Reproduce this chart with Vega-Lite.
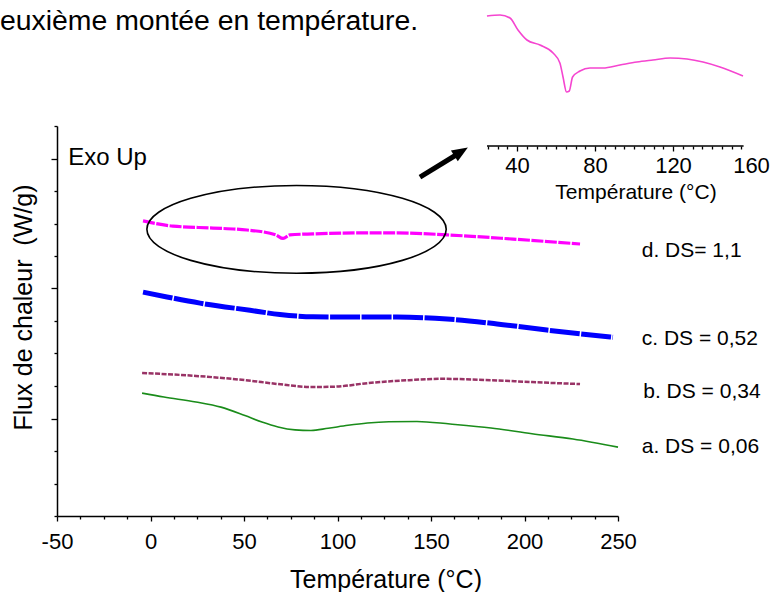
{
  "$schema": "https://vega.github.io/schema/vega-lite/v6.json",
  "width": 561,
  "height": 390,
  "autosize": {"type": "none"},
  "padding": {"left": 57, "top": 126, "right": 160, "bottom": 76},
  "background": "white",
  "config": {
    "view": {"stroke": null},
    "font": "Liberation Sans",
    "axis": {"grid": false, "domainColor": "black", "tickColor": "black", "labelColor": "black", "titleColor": "black", "labelFont": "Liberation Sans", "titleFont": "Liberation Sans", "titleFontWeight": "normal", "domainWidth": 1.5, "tickWidth": 1.3}
  },
  "datasets": {
    "curves": [
      {"s": "a", "T": -4.5, "v": 3.78}, {"s": "a", "T": 7.2, "v": 3.66}, {"s": "a", "T": 24.3, "v": 3.51}, {"s": "a", "T": 37.7, "v": 3.35}, {"s": "a", "T": 50.5, "v": 3.09}, {"s": "a", "T": 59.6, "v": 2.89}, {"s": "a", "T": 68.2, "v": 2.74}, {"s": "a", "T": 77.3, "v": 2.65}, {"s": "a", "T": 85.8, "v": 2.63}, {"s": "a", "T": 95.0, "v": 2.7}, {"s": "a", "T": 105.6, "v": 2.79}, {"s": "a", "T": 116.0, "v": 2.86}, {"s": "a", "T": 127.5, "v": 2.9}, {"s": "a", "T": 142.5, "v": 2.91}, {"s": "a", "T": 160.2, "v": 2.83}, {"s": "a", "T": 182.1, "v": 2.71}, {"s": "a", "T": 204.0, "v": 2.53}, {"s": "a", "T": 225.9, "v": 2.37}, {"s": "a", "T": 250.0, "v": 2.12},
      {"s": "b", "T": -4.5, "v": 4.4}, {"s": "b", "T": 24.3, "v": 4.31}, {"s": "b", "T": 50.6, "v": 4.18}, {"s": "b", "T": 68.2, "v": 4.06}, {"s": "b", "T": 85.8, "v": 3.97}, {"s": "b", "T": 98.6, "v": 3.98}, {"s": "b", "T": 116.3, "v": 4.09}, {"s": "b", "T": 138.2, "v": 4.18}, {"s": "b", "T": 155.9, "v": 4.22}, {"s": "b", "T": 182.1, "v": 4.18}, {"s": "b", "T": 204.0, "v": 4.12}, {"s": "b", "T": 229.7, "v": 4.06},
      {"s": "c", "T": -4.0, "v": 6.89}, {"s": "c", "T": 8.8, "v": 6.74}, {"s": "c", "T": 26.5, "v": 6.55}, {"s": "c", "T": 53.2, "v": 6.33}, {"s": "c", "T": 69.2, "v": 6.2}, {"s": "c", "T": 86.9, "v": 6.13}, {"s": "c", "T": 113.6, "v": 6.12}, {"s": "c", "T": 131.8, "v": 6.12}, {"s": "c", "T": 158.6, "v": 6.06}, {"s": "c", "T": 185.3, "v": 5.91}, {"s": "c", "T": 212.0, "v": 5.72}, {"s": "c", "T": 247.3, "v": 5.5},
      {"s": "d", "T": -4.0, "v": 9.08}, {"s": "d", "T": 12.0, "v": 8.92}, {"s": "d", "T": 33.4, "v": 8.86}, {"s": "d", "T": 51.6, "v": 8.8}, {"s": "d", "T": 67.0, "v": 8.65}, {"s": "d", "T": 70.9, "v": 8.54}, {"s": "d", "T": 74.5, "v": 8.65}, {"s": "d", "T": 86.9, "v": 8.68}, {"s": "d", "T": 113.6, "v": 8.71}, {"s": "d", "T": 131.8, "v": 8.71}, {"s": "d", "T": 158.6, "v": 8.65}, {"s": "d", "T": 193.9, "v": 8.52}, {"s": "d", "T": 229.7, "v": 8.37}
    ],
    "inset": [
      {"T": 24.6, "v": 13.0}, {"T": 31.3, "v": 13.1}, {"T": 36.4, "v": 12.8}, {"T": 40.5, "v": 11.6}, {"T": 45.1, "v": 10.6}, {"T": 51.8, "v": 10.1}, {"T": 58.5, "v": 9.3}, {"T": 62.0, "v": 8.3}, {"T": 63.6, "v": 6.9}, {"T": 65.4, "v": 5.4}, {"T": 66.8, "v": 5.5}, {"T": 68.5, "v": 6.9}, {"T": 72.3, "v": 7.5}, {"T": 77.4, "v": 7.8}, {"T": 84.1, "v": 7.8}, {"T": 92.8, "v": 8.1}, {"T": 101.5, "v": 8.4}, {"T": 109.7, "v": 8.6}, {"T": 118.5, "v": 8.8}, {"T": 127.2, "v": 8.7}, {"T": 135.4, "v": 8.4}, {"T": 144.1, "v": 7.9}, {"T": 155.9, "v": 7.0}
    ],
    "notes": [
      {"id": "lab", "label": "d. DS= 1,1", "T": 262.7, "v": 7.98},
      {"id": "lab", "label": "c. DS = 0,52", "T": 262.7, "v": 5.26},
      {"id": "lab", "label": "b. DS = 0,34", "T": 263.5, "v": 3.63},
      {"id": "lab", "label": "a. DS = 0,06", "T": 262.7, "v": 1.94},
      {"id": "exo", "label": "Exo Up", "T": -44.0, "v": 10.8},
      {"id": "top", "label": "euxième montée en température.", "T": -80.5, "v": 14.95}
    ]
  },
  "layer": [
    {
      "encoding": {
        "x": {"field": "T", "type": "quantitative", "scale": {"domain": [-50, 250], "nice": false, "zero": false},
          "axis": {"orient": "bottom", "values": [-50, -37.5, -25, -12.5, 0, 12.5, 25, 37.5, 50, 62.5, 75, 87.5, 100, 112.5, 125, 137.5, 150, 162.5, 175, 187.5, 200, 212.5, 225, 237.5, 250],
            "labelExpr": "datum.value % 50 === 0 ? '' + datum.value : ''",
            "tickSize": {"condition": {"test": "datum.value % 50 === 0", "value": 5}, "value": 3},
            "labelFontSize": 22, "labelBaseline": "alphabetic", "labelPadding": 27, "labelFlush": false, "labelOverlap": false,
            "title": "Température (°C)", "titleFontSize": 25, "titleX": 328.5, "titleY": 71, "titleBaseline": "alphabetic", "titleAlign": "center", "titleAnchor": null}},
        "y": {"field": "v", "type": "quantitative", "scale": {"domain": [0, 12], "nice": false, "zero": false},
          "axis": {"orient": "left", "values": [0, 1, 2, 3, 4, 5, 6, 7, 8, 9, 10, 11, 12], "labels": false,
            "tickSize": {"condition": {"test": "datum.value % 4 === 3", "value": 6}, "value": 3},
            "title": "Flux de chaleur\u00a0 (W/g)", "titleFontSize": 25, "titleX": -26, "titleY": 181, "titleAngle": 270, "titleBaseline": "alphabetic", "titleAlign": "center", "titleAnchor": null}}
      },
      "layer": [
        {"data": {"name": "curves"}, "transform": [{"filter": "datum.s === 'a'"}], "mark": {"type": "line", "color": "#1a8c1a", "strokeWidth": 1.6, "interpolate": "monotone"}},
        {"data": {"name": "curves"}, "transform": [{"filter": "datum.s === 'b'"}], "mark": {"type": "line", "color": "#993366", "strokeWidth": 2.5, "strokeDash": [5, 1.5], "interpolate": "monotone"}},
        {"data": {"name": "curves"}, "transform": [{"filter": "datum.s === 'c'"}], "mark": {"type": "line", "color": "#0000ff", "strokeWidth": 5, "strokeDash": [30, 1.5], "interpolate": "monotone"}},
        {"data": {"name": "curves"}, "transform": [{"filter": "datum.s === 'd'"}], "mark": {"type": "line", "color": "#ff00ff", "strokeWidth": 3.2, "strokeDash": [12, 1.5], "interpolate": "monotone"}},
        {"data": {"values": [{"T": 78.1, "v": 8.82}]}, "mark": {"type": "point", "shape": "M -1 0 C -1 -0.162 -0.552 -0.293 0 -0.293 C 0.552 -0.293 1 -0.162 1 0 C 1 0.162 0.552 0.293 0 0.293 C -0.552 0.293 -1 0.162 -1 0 Z", "size": 89600, "filled": false, "color": "black", "strokeWidth": 1.6, "opacity": 1}},
        {"data": {"values": [{"T": 144.1, "v": 10.43, "T2": 166.0, "v2": 11.2}]}, "mark": {"type": "rule", "color": "black", "strokeWidth": 5}, "encoding": {"x2": {"field": "T2"}, "y2": {"field": "v2"}}},
        {"data": {"values": [{"T": 166.1, "v": 11.21}]}, "mark": {"type": "point", "shape": "M 1 0 L -1 -0.8 L -1 0.8 Z", "size": 256, "angle": 327.5, "filled": true, "color": "black", "opacity": 1}},
        {"data": {"name": "notes"}, "transform": [{"filter": "datum.id === 'lab'"}], "mark": {"type": "text", "align": "left", "baseline": "alphabetic", "fontSize": 21, "color": "black", "font": "Liberation Sans"}, "encoding": {"text": {"field": "label"}}},
        {"data": {"name": "notes"}, "transform": [{"filter": "datum.id === 'exo'"}], "mark": {"type": "text", "align": "left", "baseline": "alphabetic", "fontSize": 24, "color": "black", "font": "Liberation Sans"}, "encoding": {"text": {"field": "label"}}},
        {"data": {"name": "notes"}, "transform": [{"filter": "datum.id === 'top'"}], "mark": {"type": "text", "align": "left", "baseline": "alphabetic", "fontSize": 28.4, "color": "black", "font": "Liberation Sans"}, "encoding": {"text": {"field": "label"}}}
      ]
    },
    {
      "encoding": {
        "x": {"field": "T", "type": "quantitative", "scale": {"domain": [20, 160], "range": [421, 694], "nice": false, "zero": false},
          "axis": {"orient": "bottom", "offset": -370, "domain": false,
            "values": [25, 30, 35, 40, 45, 50, 55, 60, 65, 70, 75, 80, 85, 90, 95, 100, 105, 110, 115, 120, 125, 130, 135, 140, 145, 150, 155, 160],
            "labelExpr": "datum.value % 40 === 0 ? '' + datum.value : ''",
            "tickSize": {"condition": {"test": "datum.value % 40 === 0", "value": 5}, "value": 3},
            "tickOpacity": {"condition": {"test": "datum.value === 160", "value": 0}, "value": 1},
            "labelFontSize": 22, "labelBaseline": "alphabetic", "labelPadding": 21, "labelFlush": false, "labelOverlap": false,
            "title": "Température (°C)", "titleFontSize": 21, "titleX": 578.5, "titleY": 52.5, "titleBaseline": "alphabetic", "titleAlign": "center", "titleAnchor": null}},
        "y": {"field": "v", "type": "quantitative", "scale": {"domain": [-37, 2], "nice": false, "zero": false}, "axis": null}
      },
      "layer": [
        {"data": {"name": "inset"}, "mark": {"type": "line", "color": "#f545d0", "strokeWidth": 1.6, "interpolate": "monotone"}},
        {"data": {"values": [{"T": 24.6, "T2": 156.2, "v": 0}]}, "mark": {"type": "rule", "color": "black", "strokeWidth": 1.3}, "encoding": {"x2": {"field": "T2"}}}
      ]
    }
  ],
  "resolve": {"scale": {"x": "independent", "y": "independent"}, "axis": {"x": "independent", "y": "independent"}}
}
